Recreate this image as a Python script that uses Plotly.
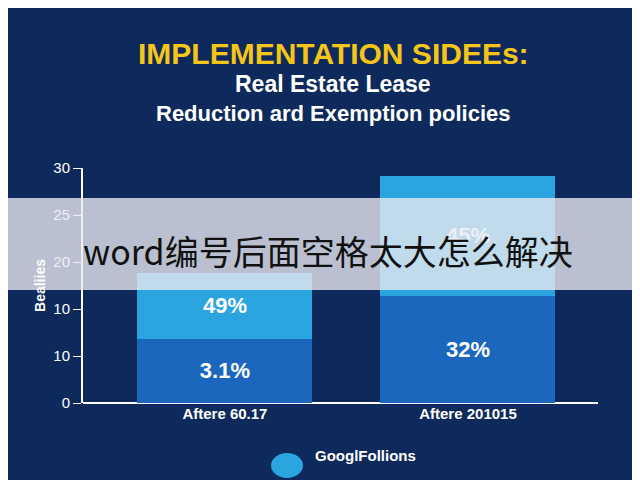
import plotly.graph_objects as go

categories = ["<b>Aftere 60.17</b>", "<b>Aftere 201015</b>"]
bottom_vals = [8.2, 13.7]
top_vals = [8.4, 15.3]
bottom_labels = ["<b>3.1%</b>", "<b>32%</b>"]
top_labels = ["<b>49%</b>", "<b>45%</b>"]
tick_vals = [0, 6, 12, 18, 24, 30]
tick_text = ["0", "10", "10", "20", "25", "30"]

L, R, T, B = 75, 590, 160, 395
def px(x): return (x - L) / (R - L)
def py(y): return (B - y) / (B - T)

bg = "#0e2a5c"
fig = go.Figure()
fig.add_bar(x=categories, y=bottom_vals, marker_color="#1a67bd", marker_line_width=0, width=0.72,
            text=bottom_labels, textposition="inside", insidetextanchor="middle",
            textfont=dict(color="white", size=22, family="Liberation Sans"))
fig.add_bar(x=categories, y=top_vals, marker_color="#2aa5df", marker_line_width=0, width=0.72,
            text=top_labels, textposition="inside", insidetextanchor="middle",
            textfont=dict(color="white", size=22, family="Liberation Sans"))
fig.update_layout(
    barmode="stack", width=640, height=480, showlegend=False,
    paper_bgcolor=bg, plot_bgcolor=bg,
    margin=dict(l=L, r=640 - R, t=T, b=480 - B),
    font=dict(family="Liberation Sans", color="white"),
    xaxis=dict(range=[-0.584, 1.535], showgrid=False, showline=False,
               tickfont=dict(size=15, color="white", family="Liberation Sans"), ticks=""),
    yaxis=dict(range=[0, 30], tickvals=tick_vals, ticktext=tick_text, showgrid=False,
               showline=True, linecolor="white", linewidth=2, ticks="outside",
               tickcolor="white", ticklen=8, tickfont=dict(size=15, color="white"),
               zeroline=True, zerolinecolor="white", zerolinewidth=2,
               title=dict(text="<b>Bealiies</b>", font=dict(size=14, color="white"), standoff=4)),
)
ann = [
    (325, 45, "<b>IMPLEMENTATION SIDEEs:</b>", 30, "#f5c518"),
    (325, 76, "<b>Real Estate Lease</b>", 23, "white"),
    (325, 106, "<b>Reduction ard Exemption policies</b>", 22, "white"),
]
for x, y, t, s, c in ann:
    fig.add_annotation(x=px(x), y=py(y), xref="paper", yref="paper", yanchor="middle",
                       text=t, showarrow=False, font=dict(size=s, color=c, family="Liberation Sans"))
# overlay banner
fig.add_shape(type="rect", xref="paper", yref="paper", x0=px(-10), x1=px(650),
              y0=py(282), y1=py(190), fillcolor="rgba(235,235,240,0.78)", line_width=0, layer="above")
fig.add_annotation(x=px(320), y=py(242), xref="paper", yref="paper", text="word编号后面空格太大怎么解决",
                   showarrow=False, font=dict(size=34, color="#111", family="Noto Sans CJK SC"))
# legend
fig.add_shape(type="circle", xref="paper", yref="paper", x0=px(263), x1=px(295),
              y0=py(470), y1=py(445), fillcolor="#2aa5df", line_width=0)
fig.add_annotation(x=px(305), y=py(458), xref="paper", yref="paper", xanchor="left",
                   text="<b>GooglFollions</b>", showarrow=False, font=dict(size=15, color="white"))
fig.write_html("out.html")
